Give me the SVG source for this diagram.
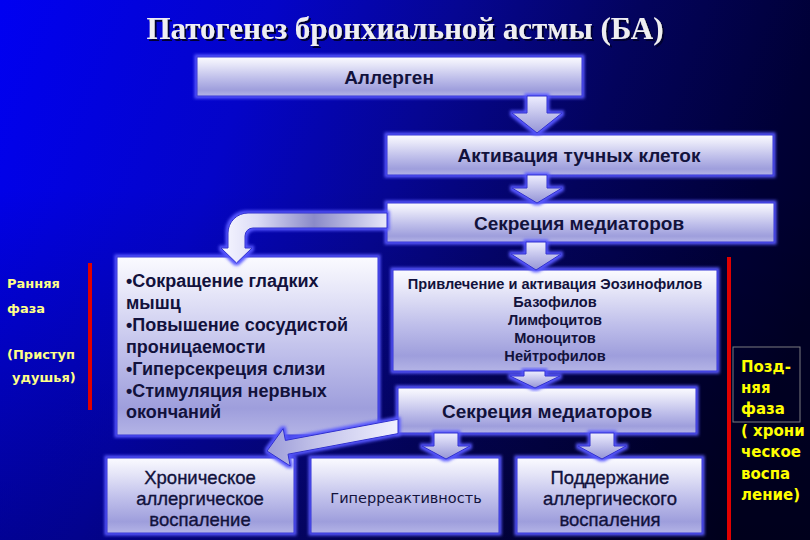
<svg xmlns="http://www.w3.org/2000/svg" width="810" height="540" viewBox="0 0 810 540">
<defs>
<linearGradient id="bg" gradientUnits="userSpaceOnUse" x1="0" y1="0" x2="810" y2="300">
<stop offset="0" stop-color="#0000f2"/>
<stop offset="0.3" stop-color="#0404c8"/>
<stop offset="0.5" stop-color="#060692"/>
<stop offset="0.7" stop-color="#03035c"/>
<stop offset="0.9" stop-color="#000036"/>
<stop offset="1" stop-color="#000028"/>
</linearGradient>
<linearGradient id="shade" x1="0" y1="0" x2="0" y2="1">
<stop offset="0.35" stop-color="#000" stop-opacity="0"/>
<stop offset="1" stop-color="#000" stop-opacity="0.3"/>
</linearGradient>
<linearGradient id="boxGrad" x1="0" y1="0" x2="0" y2="1">
<stop offset="0" stop-color="#fbfbff"/>
<stop offset="0.2" stop-color="#e6e6f8"/>
<stop offset="0.55" stop-color="#bebeea"/>
<stop offset="0.85" stop-color="#9e9edc"/>
<stop offset="1" stop-color="#b4b4e6"/>
</linearGradient>
<linearGradient id="arrGrad" x1="0" y1="0" x2="0" y2="1">
<stop offset="0" stop-color="#eeeeff"/>
<stop offset="1" stop-color="#9494d6"/>
</linearGradient>
<linearGradient id="curveGrad" gradientUnits="userSpaceOnUse" x1="387" y1="0" x2="225" y2="0">
<stop offset="0" stop-color="#e8e8fa"/>
<stop offset="0.45" stop-color="#8a8ac8"/>
<stop offset="0.8" stop-color="#dcdcf6"/>
<stop offset="1" stop-color="#f4f4ff"/>
</linearGradient>
<linearGradient id="diagGrad" gradientUnits="userSpaceOnUse" x1="398" y1="0" x2="267" y2="0">
<stop offset="0" stop-color="#f0f0ff"/>
<stop offset="0.6" stop-color="#c4c4ea"/>
<stop offset="1" stop-color="#9c9cd8"/>
</linearGradient>
<filter id="glow" x="-10%" y="-20%" width="120%" height="140%">
<feMorphology in="SourceAlpha" operator="dilate" radius="2" result="d"/>
<feGaussianBlur in="d" stdDeviation="1.6" result="b"/>
<feFlood flood-color="#5656ff"/>
<feComposite in2="b" operator="in" result="g"/>
<feMerge><feMergeNode in="g"/><feMergeNode in="SourceGraphic"/></feMerge>
</filter>
<filter id="tshadow" x="-5%" y="-20%" width="110%" height="150%">
<feOffset in="SourceAlpha" dx="2" dy="2" result="o"/>
<feFlood flood-color="#000030"/>
<feComposite in2="o" operator="in" result="s"/>
<feMerge><feMergeNode in="s"/><feMergeNode in="SourceGraphic"/></feMerge>
</filter>
<style>
.box{fill:url(#boxGrad);stroke:#3434d4;stroke-width:1;filter:url(#glow)}
.arr{fill:url(#arrGrad);stroke:#3030cc;stroke-width:1;filter:url(#glow)}
.t{font-family:"Liberation Sans",Arial,sans-serif;fill:#12123c}
.b{font-weight:bold}
.c{text-anchor:middle}
.m{stroke:#12123c;stroke-width:0.35}
.y1{font-family:"DejaVu Sans",Verdana,sans-serif;font-size:13px;font-weight:bold;fill:#ffff88}
.y2{font-family:"DejaVu Sans",Verdana,sans-serif;font-size:15px;font-weight:bold;fill:#ffff00}
.red{fill:#e00000}
</style>
</defs>
<rect width="810" height="540" fill="url(#bg)"/>
<rect width="810" height="540" fill="url(#shade)"/>

<text x="405" y="39" text-anchor="middle" font-family="Liberation Serif, 'Times New Roman', serif" font-weight="bold" font-size="31" fill="#eeeef2" filter="url(#tshadow)">Патогенез бронхиальной астмы (БА)</text>

<g id="allergen"><rect class="box" x="197" y="57" width="385" height="39"/><text class="t b c" x="389" y="84" font-size="19">Аллерген</text></g>
<g id="activation"><rect class="box" x="387" y="135" width="386" height="40"/><text class="t b c" x="579" y="162" font-size="19">Активация тучных клеток</text></g>
<g id="secretion1"><rect class="box" x="387" y="203" width="387" height="39"/><text class="t b c" x="579" y="230" font-size="19">Секреция медиаторов</text></g>
<g id="early-effects"><rect class="box" x="117" y="257" width="261" height="178"/>
<text class="t b" font-size="18" x="126"><tspan x="126" y="287">•Сокращение гладких</tspan><tspan x="126" y="309">мышц</tspan><tspan x="126" y="331">•Повышение сосудистой</tspan><tspan x="126" y="353">проницаемости</tspan><tspan x="126" y="375">•Гиперсекреция слизи</tspan><tspan x="126" y="397">•Стимуляция нервных</tspan><tspan x="126" y="418">окончаний</tspan></text></g>
<g id="recruitment"><rect class="box" x="393" y="270" width="324" height="101"/>
<text class="t b c" font-size="14.6"><tspan x="555" y="289">Привлечение и активация Эозинофилов</tspan><tspan x="555" y="307">Базофилов</tspan><tspan x="555" y="325">Лимфоцитов</tspan><tspan x="555" y="343">Моноцитов</tspan><tspan x="555" y="361">Нейтрофилов</tspan></text></g>
<g id="secretion2"><rect class="box" x="398" y="388" width="298" height="45"/><text class="t b c" x="547" y="418" font-size="19">Секреция медиаторов</text></g>
<g id="chronic"><rect class="box" x="107" y="458" width="187" height="75"/>
<text class="t c m" font-size="18.5"><tspan x="200" y="484">Хроническое</tspan><tspan x="200" y="505">аллергическое</tspan><tspan x="200" y="526">воспаление</tspan></text></g>
<g id="hyperreactivity"><rect class="box" x="311" y="458" width="188" height="75"/>
<text class="c" x="406" y="503" font-family="DejaVu Sans, Verdana, sans-serif" font-size="14.5" fill="#12123c">Гиперреактивность</text></g>
<g id="maintenance"><rect class="box" x="517" y="458" width="185" height="75"/>
<text class="t c m" font-size="18.5"><tspan x="610" y="484">Поддержание</tspan><tspan x="610" y="505">аллергического</tspan><tspan x="610" y="526">воспаления</tspan></text></g>

<g id="connectors">
<path class="arr" d="M527 96 L547 96 L547 113 L562 113 L537 133 L512 113 L527 113 Z"/>
<path class="arr" d="M527 175 L547 175 L547 188 L562 188 L537 203 L512 188 L527 188 Z"/>
<path class="arr" d="M526 242 L546 242 L546 254 L561 254 L536 270 L511 254 L526 254 Z"/>
<path class="arr" d="M524 371 L545 371 L545 376 L560 376 L535 388 L510 376 L524 376 Z"/>
<path class="arr" d="M434 433 L458 433 L458 446 L470 446 L446 459 L422 446 L434 446 Z"/>
<path class="arr" d="M590 433 L614 433 L614 446 L626 446 L602 459 L578 446 L590 446 Z"/>
<path class="arr" style="fill:url(#curveGrad)" d="M387 213 L248 213 A20 20 0 0 0 228 233 L228 248 L221 248 L236.5 263 L252 248 L245 248 L245 236 A8 8 0 0 1 253 228 L387 228 Z"/>
<path class="arr" style="fill:url(#diagGrad)" d="M398 419.3 L285.4 440.4 L283.2 428.6 L267 451 L290.2 466 L288 454.2 L398 433.6 Z"/>
</g>

<g id="early-phase">
<rect class="red" x="88" y="263" width="4" height="147"/>
<text class="y1" x="7" y="288">Ранняя</text>
<text class="y1" x="7" y="313">фаза</text>
<text class="y1" x="7" y="359">(Приступ</text>
<text class="y1" x="12" y="382">удушья)</text>
</g>
<g id="late-phase">
<rect class="red" x="727" y="257" width="4" height="283"/>
<rect x="733" y="347" width="67" height="75" fill="none" stroke="#7a7a80" stroke-width="1"/>
<text class="y2" x="741" y="372">Позд-</text>
<text class="y2" x="741" y="393">няя</text>
<text class="y2" x="741" y="414">фаза</text>
<text class="y2" x="741" y="436">( хрони</text>
<text class="y2" x="741" y="457">ческое</text>
<text class="y2" x="741" y="479">воспа</text>
<text class="y2" x="741" y="500">ление)</text>
</g>
</svg>
